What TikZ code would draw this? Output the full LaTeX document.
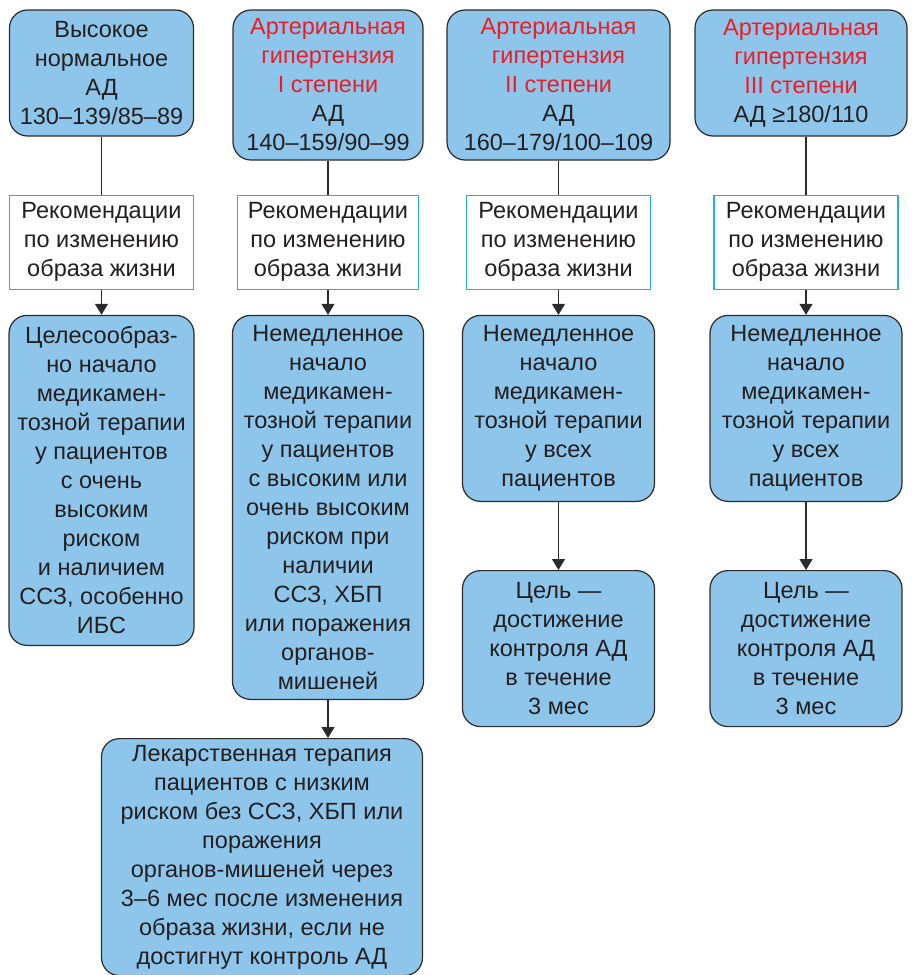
\documentclass[tikz,border=0pt]{standalone}
\usepackage{fontspec}
\setmainfont{Liberation Sans}
\usetikzlibrary{arrows.meta, positioning}
\definecolor{boxblue}{RGB}{142,198,235}
\definecolor{edgegray}{RGB}{45,42,43}
\definecolor{reccyan}{RGB}{41,171,226}
\definecolor{hlred}{RGB}{237,28,36}
\definecolor{inktext}{RGB}{35,31,32}
\newcommand{\redtxt}[1]{\textcolor{hlred}{#1}}

\begin{document}
\begin{tikzpicture}[x=1pt, y=-1pt,
    every node/.style={font=\fontsize{23.5}{29}\selectfont, text=inktext, align=center},
    bluebox/.style={draw=edgegray, fill=boxblue, line width=1.2pt, rounded corners=18pt, inner sep=4pt},
    recbox/.style={draw=reccyan, fill=white, line width=1.2pt, minimum width=184pt, minimum height=94pt, inner sep=2pt},
    link/.style={line width=1.2pt, draw=edgegray},
    conn/.style={link, -{Triangle[width=13pt, length=11pt]}}
]
\useasboundingbox (0,0) rectangle (911,975);

% High normal
\node[bluebox, minimum width=184pt, minimum height=126pt] (hn) at (101.5,73) {Высокое\\нормальное\\АД\\130–139/85–89};
\node[recbox, below=58pt of hn] (hnrec) {Рекомендации\\по изменению\\образа жизни};
\node[bluebox, minimum width=185pt, minimum height=330pt, below=25pt of hnrec] (hnmed) {Целесообраз-\\но начало\\медикамен-\\тозной терапии\\у пациентов\\с очень\\высоким\\риском\\и наличием\\ССЗ, особенно\\ИБС};
\draw[link] (hnrec.north) -- (hnrec.north |- hn.south);
\draw[conn] (hnrec.south) -- (hnrec.south |- hnmed.north);

% Grade I
\node[bluebox, minimum width=190pt, minimum height=150pt] (g1) at (328,85) {\redtxt{Артериальная}\\\redtxt{гипертензия}\\\redtxt{I степени}\\АД\\140–159/90–99};
\node[recbox, minimum width=181pt, below=34pt of g1] (g1rec) {Рекомендации\\по изменению\\образа жизни};
\node[bluebox, minimum width=191pt, minimum height=384pt, below=25pt of g1rec] (g1med) {Немедленное\\начало\\медикамен-\\тозной терапии\\у пациентов\\с высоким или\\очень высоким\\риском при\\наличии\\ССЗ, ХБП\\или поражения\\органов-\\мишеней};
\node[bluebox, minimum width=321pt, minimum height=237pt, below=38pt of g1med, xshift=-66pt] (g1late) {Лекарственная терапия\\пациентов с низким\\риском без ССЗ, ХБП или\\поражения\\органов-мишеней через\\3–6 мес после изменения\\образа жизни, если не\\достигнут контроль АД};
\draw[link] (g1rec.north) -- (g1rec.north |- g1.south);
\draw[conn] (g1rec.south) -- (g1rec.south |- g1med.north);
\draw[conn] (g1med.south) -- (g1med.south |- g1late.north);

% Grade II
\node[bluebox, minimum width=223pt, minimum height=150pt] (g2) at (558.5,85) {\redtxt{Артериальная}\\\redtxt{гипертензия}\\\redtxt{II степени}\\АД\\160–179/100–109};
\node[recbox, below=34pt of g2] (g2rec) {Рекомендации\\по изменению\\образа жизни};
\node[bluebox, minimum width=192pt, minimum height=186pt, below=25pt of g2rec] (g2med) {Немедленное\\начало\\медикамен-\\тозной терапии\\у всех\\пациентов};
\node[bluebox, minimum width=192pt, minimum height=156pt, below=68pt of g2med] (g2goal) {Цель —\\достижение\\контроля АД\\в течение\\3 мес};
\draw[link] (g2rec.north) -- (g2rec.north |- g2.south);
\draw[conn] (g2rec.south) -- (g2rec.south |- g2med.north);
\draw[conn] (g2med) -- (g2goal);

% Grade III
\node[bluebox, minimum width=212pt, minimum height=126pt] (g3) at (801,73) {\redtxt{Артериальная}\\\redtxt{гипертензия}\\\redtxt{III степени}\\АД ≥180/110};
\node[recbox, below=58pt of g3, xshift=5pt] (g3rec) {Рекомендации\\по изменению\\образа жизни};
\node[bluebox, minimum width=192pt, minimum height=186pt, below=25pt of g3rec] (g3med) {Немедленное\\начало\\медикамен-\\тозной терапии\\у всех\\пациентов};
\node[bluebox, minimum width=192pt, minimum height=156pt, below=68pt of g3med] (g3goal) {Цель —\\достижение\\контроля АД\\в течение\\3 мес};
\draw[link] (g3rec.north) -- (g3rec.north |- g3.south);
\draw[conn] (g3rec.south) -- (g3rec.south |- g3med.north);
\draw[conn] (g3med) -- (g3goal);

\end{tikzpicture}
\end{document}
